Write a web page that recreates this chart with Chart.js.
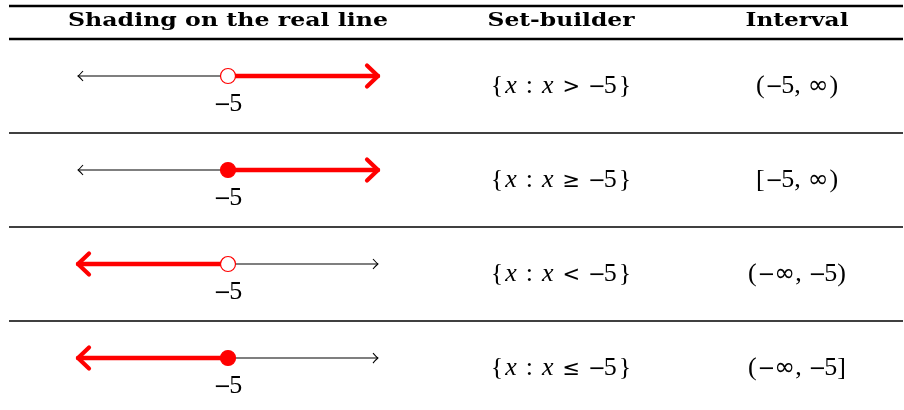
<!DOCTYPE html>
<html>
<head>
<meta charset="utf-8">
<script src="https://cdn.jsdelivr.net/npm/chart.js@4"></script>
<style>
  html, body { margin: 0; padding: 0; background: #fff; }
  #wrap { width: 904px; height: 410px; }
</style>
</head>
<body>
<div id="wrap"><canvas id="lines" width="904" height="410"></canvas></div>
<script>
// table data
const headers = ['Shading on the real line', 'Set-builder', 'Interval'];
const rows = [1, 2, 3, 4];
const endpoint = -5;
const lineMin = -10;
const lineMax = 0;
const shadeSide = ['right', 'right', 'left', 'left'];
const closedEnd = [false, true, false, true];
const relations = ['>', '\u2265', '<', '\u2264'];
const leftBrackets = ['(', '[', '(', '('];
const rightBrackets = [')', ')', ')', ']'];
const tickLabel = '5';

const RED = '#ff0000';
const colX = [228, 561, 797];
const headerWidths = [320, 147, 103];
const rulesY = [6, 39, 133, 227, 321];
const R = '26px "Liberation Serif"';
const I = 'italic 26px "Liberation Serif"';
const S = '21px "DejaVu Sans"';
const INF = '25px "DejaVu Sans"';
const MINUS = '\u2212', INFTY = '\u221e';

const datasets = [];
rows.forEach((r, i) => {
  datasets.push({
    data: [{ x: lineMin, y: r }, { x: lineMax, y: r }],
    borderColor: '#000', borderWidth: 1.1, pointRadius: 0, showLine: true, order: 3
  });
  const shaded = shadeSide[i] === 'right'
    ? [{ x: endpoint, y: r }, { x: lineMax, y: r }]
    : [{ x: lineMin, y: r }, { x: endpoint, y: r }];
  datasets.push({
    data: shaded,
    borderColor: RED, borderWidth: 4.4, pointRadius: 0, showLine: true, order: 2,
    borderCapStyle: 'round'
  });
  datasets.push({
    data: [{ x: endpoint, y: r }],
    pointRadius: 7.5, pointBorderWidth: 1.2,
    pointBorderColor: RED,
    pointBackgroundColor: closedEnd[i] ? RED : '#fff',
    showLine: false, order: 1
  });
});

// parts: [text, font, gap after]
function drawMath(ctx, parts, cx, baseY) {
  let total = 0;
  parts.forEach((p, k) => {
    ctx.font = p[1];
    total += ctx.measureText(p[0]).width + (k < parts.length - 1 ? p[2] : 0);
  });
  let x = cx - total / 2;
  ctx.textAlign = 'left';
  ctx.textBaseline = 'alphabetic';
  parts.forEach(p => {
    ctx.font = p[1];
    ctx.fillText(p[0], x, baseY);
    x += ctx.measureText(p[0]).width + p[2];
  });
}

const tablePlugin = {
  id: 'table',
  afterDatasetsDraw(chart) {
    const ctx = chart.ctx;
    const xs = chart.scales.x, ys = chart.scales.y;
    ctx.save();
    ctx.fillStyle = '#000';
    ctx.strokeStyle = '#000';

    // rules
    rulesY.forEach((y, k) => {
      ctx.lineWidth = (k < 2) ? 2.6 : 1.7;
      ctx.beginPath();
      ctx.moveTo(9, y);
      ctx.lineTo(903, y);
      ctx.stroke();
    });

    // headers
    headers.forEach((h, k) => {
      ctx.font = 'bold 19px "DejaVu Serif"';
      const w = ctx.measureText(h).width;
      ctx.save();
      ctx.translate(colX[k], 26);
      ctx.scale(headerWidths[k] / w, 1);
      ctx.textAlign = 'center';
      ctx.textBaseline = 'alphabetic';
      ctx.fillText(h, 0, 0);
      ctx.restore();
    });

    rows.forEach((r, i) => {
      const y = ys.getPixelForValue(r);
      const xl = xs.getPixelForValue(lineMin);
      const xr = xs.getPixelForValue(lineMax);
      const xe = xs.getPixelForValue(endpoint);

      // arrowheads
      const ends = [[xl, -1], [xr, 1]];
      ends.forEach(([tx, dir]) => {
        const isRed = (dir === 1 && shadeSide[i] === 'right') || (dir === -1 && shadeSide[i] === 'left');
        ctx.beginPath();
        if (isRed) {
          ctx.strokeStyle = RED;
          ctx.lineWidth = 4.2;
          ctx.lineCap = 'round';
          ctx.lineJoin = 'round';
          ctx.moveTo(tx - dir * 11, y - 10.5);
          ctx.lineTo(tx, y);
          ctx.lineTo(tx - dir * 11, y + 10.5);
        } else {
          ctx.strokeStyle = '#000';
          ctx.lineWidth = 1.1;
          ctx.lineCap = 'butt';
          ctx.moveTo(tx - dir * 5, y - 5);
          ctx.quadraticCurveTo(tx - dir * 1.5, y - 1, tx, y);
          ctx.quadraticCurveTo(tx - dir * 1.5, y + 1, tx - dir * 5, y + 5);
        }
        ctx.stroke();
      });

      ctx.fillStyle = '#000';
      // tick label
      drawMath(ctx, [[MINUS, S, -2], [tickLabel, R, 0]], xe, y + 35);

      // set-builder
      drawMath(ctx, [
        ['{', R, 2], ['x', I, 9], [':', R, 9], ['x', I, 9],
        [relations[i], S, 8], [MINUS, S, -2], ['5', R, 2], ['}', R, 0]
      ], colX[1], y + 17);

      // interval
      const five = [[MINUS, S, -2], ['5', R, 0]];
      const inf = i < 2 ? [[INFTY, INF, 1]] : [[MINUS, S, -1], [INFTY, INF, 0]];
      const a = i < 2 ? five : inf;
      const b = i < 2 ? inf : five;
      drawMath(ctx, [[leftBrackets[i], R, 1]].concat(a, [[',', R, 7]], b, [[rightBrackets[i], R, 0]]),
        colX[2], y + 17);
    });
    ctx.restore();
  }
};

new Chart(document.getElementById('lines'), {
  type: 'scatter',
  data: { datasets },
  options: {
    responsive: false,
    animation: false,
    layout: { padding: 0, autoPadding: false },
    plugins: { legend: { display: false }, tooltip: { enabled: false } },
    scales: {
      x: { type: 'linear', display: false, min: -12.6, max: 17.533 },
      y: { type: 'linear', display: false, reverse: true, min: 0.1915, max: 4.553 }
    }
  },
  plugins: [tablePlugin]
});
</script>
</body>
</html>
